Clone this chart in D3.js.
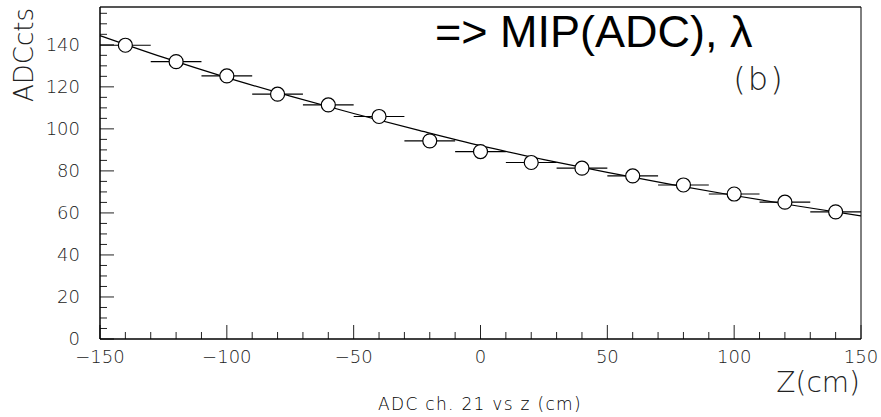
<!DOCTYPE html>
<html>
<head>
<meta charset="utf-8">
<script src="https://cdn.jsdelivr.net/npm/d3@7"></script>
<style>
  body { margin: 0; background: #fff; }
  .tick-label { font-family: "DejaVu Sans", sans-serif; font-weight: 200; fill: #222; }
</style>
</head>
<body>
<script>
// measured points: z position (cm) and ADC counts
var zPos = [-140, -120, -100, -80, -60, -40, -20, 0, 20, 40, 60, 80, 100, 120, 140];
var adcVals = [139.8, 132.0, 125.2, 116.5, 111.4, 105.9, 94.3, 89.2, 84.0, 81.3, 77.6, 73.3, 69.0, 65.1, 60.5];
var zErr = 10;

// fitted curve
var fitZ = [-150, -125, -100, -75, -50, -25, 0, 25, 50, 75, 100, 125, 150];
var fitAdc = [144.4, 134.0, 124.4, 115.6, 107.3, 99.5, 92.0, 85.4, 79.3, 73.6, 68.3, 63.3, 58.6];

var xTicks = [-150, -100, -50, 0, 50, 100, 150];
var yTicks = [0, 20, 40, 60, 80, 100, 120, 140];

var margin = {top: 7, right: 20, bottom: 78, left: 100},
    width = 881 - margin.left - margin.right,
    height = 417 - margin.top - margin.bottom;

var svg = d3.select("body").append("svg")
    .attr("width", 881)
    .attr("height", 417);

var g = svg.append("g")
    .attr("transform", "translate(" + margin.left + "," + margin.top + ")");

var x = d3.scaleLinear().domain([-150, 150]).range([0, width]);
var y = d3.scaleLinear().domain([0, 158]).range([height, 0]);

// frame (top and right)
g.append("line")
    .attr("x1", 0).attr("x2", width).attr("y1", 0).attr("y2", 0)
    .attr("stroke", "#555").attr("stroke-width", 2);
g.append("line")
    .attr("x1", width).attr("x2", width).attr("y1", 0).attr("y2", height)
    .attr("stroke", "#000").attr("stroke-width", 1);

// minor + major ticks
var xMinor = d3.range(-150, 151, 10);
var yMinor = d3.range(0, 156, 5);

g.selectAll(".xminor")
    .data(xMinor)
    .enter().append("line")
    .attr("x1", function(d) { return x(d); })
    .attr("x2", function(d) { return x(d); })
    .attr("y1", height)
    .attr("y2", function(d) { return height - (d % 50 === 0 ? 14 : 7); })
    .attr("stroke", "#222").attr("stroke-width", 1);

g.selectAll(".yminor")
    .data(yMinor)
    .enter().append("line")
    .attr("y1", function(d) { return y(d); })
    .attr("y2", function(d) { return y(d); })
    .attr("x1", 0)
    .attr("x2", function(d) { return d % 20 === 0 ? 14 : 7; })
    .attr("stroke", "#222").attr("stroke-width", 1);

// axis lines
g.append("line")
    .attr("x1", 0).attr("x2", width).attr("y1", height).attr("y2", height)
    .attr("stroke", "#000").attr("stroke-width", 1.5);
g.append("line")
    .attr("x1", 0).attr("x2", 0).attr("y1", 0).attr("y2", height)
    .attr("stroke", "#000").attr("stroke-width", 1.5);

// tick labels
g.selectAll(".xlab")
    .data(xTicks)
    .enter().append("text")
    .attr("class", "tick-label")
    .attr("x", function(d) { return x(d); })
    .attr("y", height + 24)
    .attr("text-anchor", "middle")
    .style("font-size", "18px")
    .text(function(d) { return d < 0 ? "\u2212" + Math.abs(d) : d; });

g.selectAll(".ylab")
    .data(yTicks)
    .enter().append("text")
    .attr("class", "tick-label")
    .attr("x", -20)
    .attr("y", function(d) { return y(d) + 6; })
    .attr("text-anchor", "end")
    .style("font-size", "18px")
    .text(function(d) { return d; });

// fit curve
var line = d3.line()
    .x(function(d) { return x(d[0]); })
    .y(function(d) { return y(d[1]); })
    .curve(d3.curveMonotoneX);

g.append("path")
    .datum(fitZ.map(function(z, i) { return [z, fitAdc[i]]; }))
    .attr("d", line)
    .attr("fill", "none")
    .attr("stroke", "#000")
    .attr("stroke-width", 1.2);

// error bars
var points = zPos.map(function(z, i) { return {z: z, v: adcVals[i]}; });

g.selectAll(".err")
    .data(points)
    .enter().append("line")
    .attr("x1", function(d) { return x(Math.max(-150, d.z - zErr)); })
    .attr("x2", function(d) { return x(Math.min(150, d.z + zErr)); })
    .attr("y1", function(d) { return y(d.v); })
    .attr("y2", function(d) { return y(d.v); })
    .attr("stroke", "#000").attr("stroke-width", 1.2);

// markers
g.selectAll("circle")
    .data(points)
    .enter().append("circle")
    .attr("cx", function(d) { return x(d.z); })
    .attr("cy", function(d) { return y(d.v); })
    .attr("r", 7)
    .attr("fill", "#fff")
    .attr("stroke", "#000")
    .attr("stroke-width", 1.2);

// texts
svg.append("text")
    .attr("x", 435)
    .attr("y", 47)
    .style("font-family", "Liberation Sans, Arial, sans-serif")
    .style("font-size", "45px")
    .style("fill", "#000")
    .text("=> MIP(ADC), \u03bb");

svg.append("text")
    .attr("class", "tick-label")
    .attr("x", 759)
    .attr("y", 90)
    .attr("text-anchor", "middle")
    .style("font-size", "32px")
    .style("letter-spacing", "2px")
    .text("(b)");

svg.append("text")
    .attr("class", "tick-label")
    .attr("transform", "translate(33,8) rotate(-90)")
    .attr("text-anchor", "end")
    .style("font-size", "26px")
    .text("ADCcts");

svg.append("text")
    .attr("class", "tick-label")
    .attr("x", 860)
    .attr("y", 392)
    .attr("text-anchor", "end")
    .style("font-size", "28px")
    .text("Z(cm)");

svg.append("text")
    .attr("class", "tick-label")
    .attr("x", 480)
    .attr("y", 410)
    .attr("text-anchor", "middle")
    .style("font-size", "17px")
    .style("letter-spacing", "1.3px")
    .style("fill", "#000")
    .text("ADC ch.  21 vs z (cm)");
</script>
</body>
</html>
